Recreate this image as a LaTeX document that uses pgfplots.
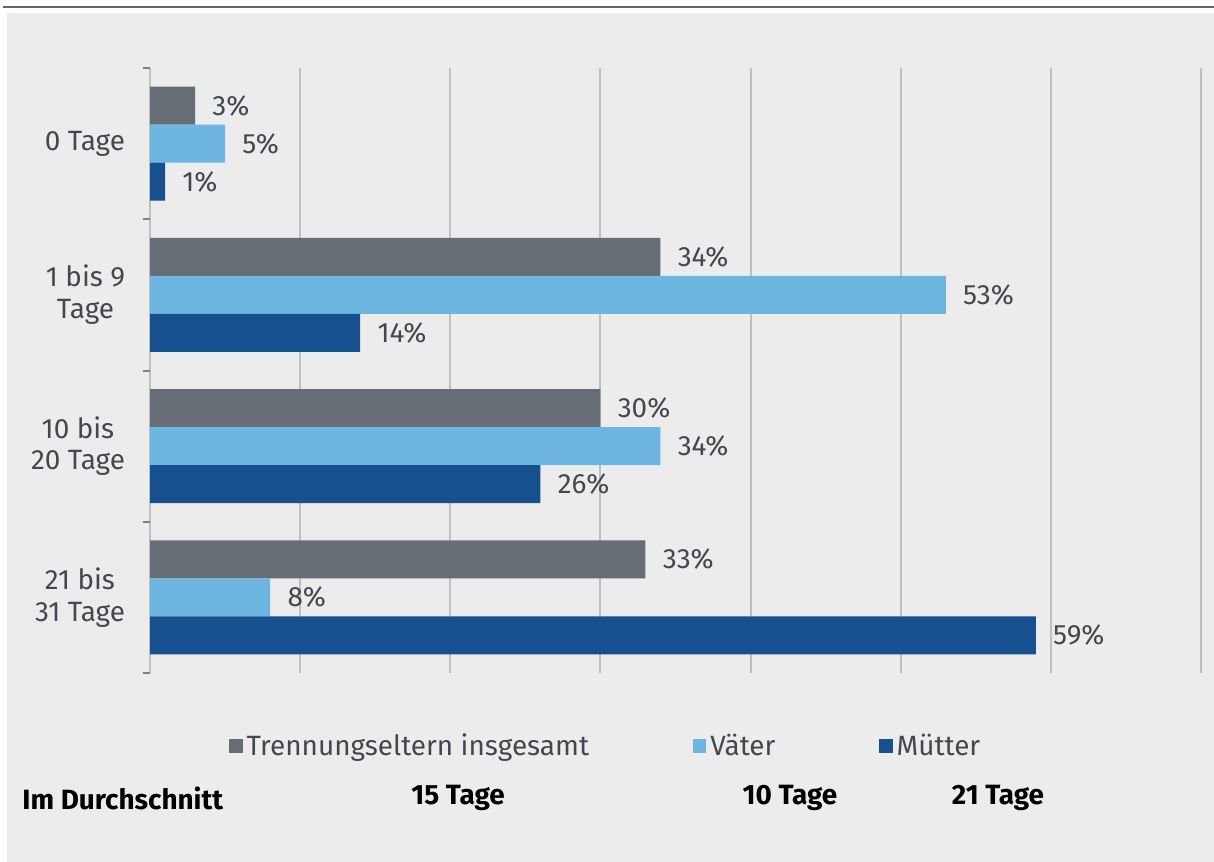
\documentclass[border=0pt]{standalone}
\usepackage{pgfplots}
\pgfplotsset{compat=1.18}
\usepackage{fontspec}
\setmainfont{Fira Sans}
\definecolor{bg}{RGB}{236,236,236}
\definecolor{cgray}{RGB}{102,109,117}
\definecolor{clight}{RGB}{108,182,225}
\definecolor{cdark}{RGB}{22,80,142}
\definecolor{grid}{RGB}{190,192,194}
\definecolor{txt}{RGB}{68,72,78}
\definecolor{topline}{RGB}{95,102,112}
\begin{document}
\begin{tikzpicture}
\fill[white] (0,0) rectangle (607bp,431bp);
\path[use as bounding box] (0,0) rectangle (607bp,431bp);
\fill[bg] (3.5bp,0) rectangle (607bp,424.5bp);
\draw[topline,line width=1.2bp] (1.5bp,427.5bp) -- (607bp,427.5bp);
\begin{axis}[
  at={(75bp,94.5bp)}, anchor=south west,
  scale only axis, width=525.5bp, height=302.5bp,
  xbar, bar width=19bp,
  xmin=0, xmax=70, ymin=-0.5, ymax=3.5, y dir=reverse,
  xtick={0,10,...,70}, xticklabels={},
  xmajorgrids, ymajorgrids=false, yminorgrids=false,
  major grid style={grid, line width=1bp},
  ytick={0,1,2,3},
  yticklabels={0 Tage,1 bis 9\\Tage,10 bis\\20 Tage,21 bis\\31 Tage},
  yticklabel style={align=center, text=txt, font=\fontsize{14}{16}\selectfont, xshift=-9bp},
  minor ytick={-0.5,0.5,1.5,2.5,3.5},
  major tick length=0pt, minor tick length=3.5bp, tick align=outside,
  ytick pos=left, xtick pos=bottom,
  minor tick style={grid, line width=1bp},
  axis line style={draw=none},
  point meta=x,
  /pgf/number format/assume math mode=true,
  nodes near coords={\pgfmathprintnumber{\pgfplotspointmeta}\%},
  nodes near coords style={anchor=west, inner sep=0pt, xshift=8.5bp, text=txt, font=\fontsize{14}{16}\selectfont},
  legend columns=3,
  legend style={at={(0.0752,-0.1207)}, anchor=west, draw=none, fill=none,
    font=\fontsize{14}{16}\selectfont, text=txt, inner sep=0pt,
    /tikz/every even column/.append style={column sep=50bp},
    legend cell align=left},
  legend image code/.code={\fill[#1,draw=none] (0bp,-3.3bp) rectangle (6.6bp,3.3bp);},
]
\addplot[fill=cgray, draw=none, bar shift=19bp] coordinates {(3,0) (34,1) (30,2) (33,3)};
\addplot[fill=clight, draw=none, bar shift=0bp] coordinates {(5,0) (53,1) (34,2) (8,3)};
\addplot[fill=cdark, draw=none, bar shift=-19bp] coordinates {(1,0) (14,1) (26,2) (59,3)};
\legend{Trennungseltern insgesamt, Väter, Mütter}
\end{axis}
\begin{scope}[font=\bfseries\fontsize{14}{16}\selectfont]
\node[anchor=west, inner sep=0pt] at (11bp,32bp) {Im Durchschnitt};
\node[inner sep=0pt] at (229bp,32bp) {15 Tage};
\node[inner sep=0pt] at (395bp,32bp) {10 Tage};
\node[inner sep=0pt] at (499bp,32bp) {21 Tage};
\end{scope}
\end{tikzpicture}
\end{document}
